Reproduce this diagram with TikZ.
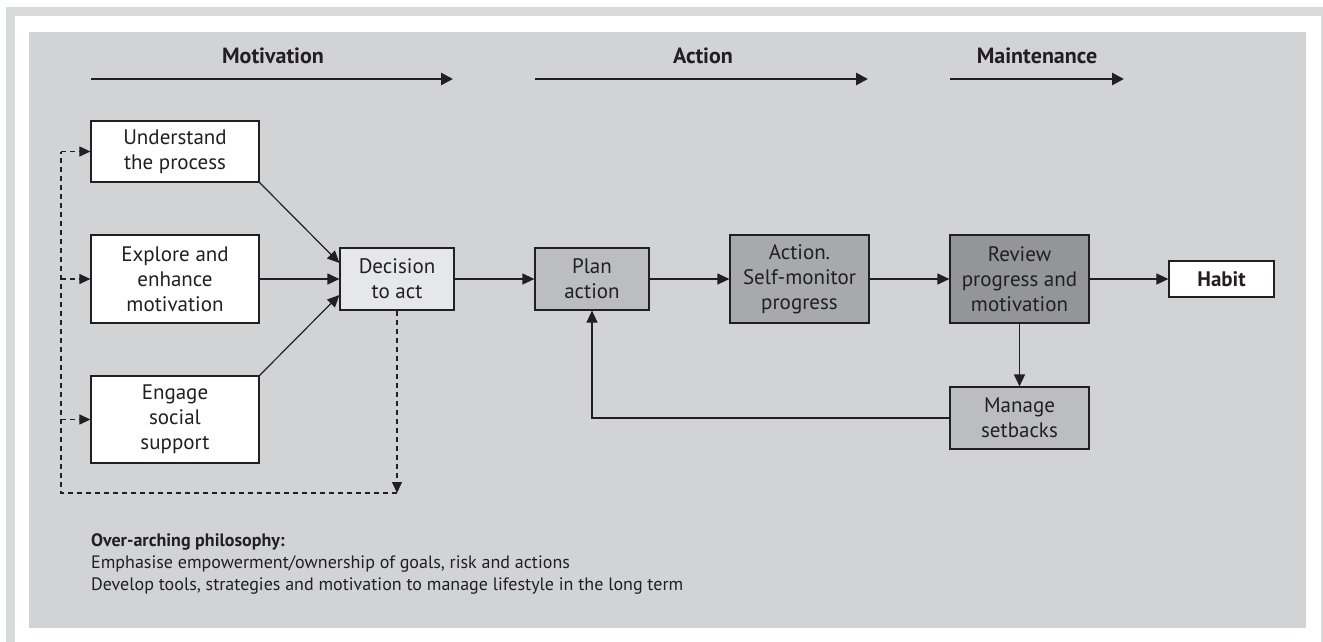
\documentclass[tikz,border=0pt]{standalone}
\usepackage{fontspec}
\setmainfont{PT Sans}
\usetikzlibrary{arrows.meta,calc}
\definecolor{bandc}{HTML}{D9DADC}
\definecolor{panelc}{HTML}{D2D3D5}
\definecolor{linec}{HTML}{231F20}
\definecolor{decc}{HTML}{E6E7E8}
\definecolor{planc}{HTML}{BCBDC0}
\definecolor{actc}{HTML}{A7A9AC}
\definecolor{revc}{HTML}{939598}
\begin{document}
\begin{tikzpicture}[x=1pt,y=-1pt,
  box/.style={draw=linec, line width=1.2pt, align=center, inner sep=0pt, text=linec,
    font=\fontsize{21}{25}\selectfont},
  conn/.style={draw=linec, line width=1.2pt, -{Triangle[length=12pt,width=11pt]}},
  dconn/.style={draw=linec, line width=1.1pt, dash pattern=on 5pt off 4pt},
  dtip/.style={-{Triangle[length=11pt,width=10pt]}},
  phase/.style={draw=linec, line width=2.6pt, -{Triangle[length=12pt,width=12pt]}},
  phaselabel/.style={text=linec, font=\bfseries\fontsize{22}{26}\selectfont, inner sep=0pt},
  foot/.style={text=linec, font=\fontsize{18}{22}\selectfont, inner sep=0pt, anchor=base west}]
\useasboundingbox (0,0) rectangle (1323,642);
% frame
\fill[bandc] (6,7) rectangle (1340,660);
\fill[white] (15,16) rectangle (1321,660);
\fill[panelc] (29,32) rectangle (1306,628);
% phase headers
\node[phaselabel] (lmot) at (273,56) {Motivation};
\node[phaselabel] (lact) at (703,56) {Action};
\node[phaselabel] (lmai) at (1037,56) {Maintenance};
\coordinate (m1) at (91,79); \coordinate (m2) at (453,79);
\coordinate (a1) at (535,79); \coordinate (a2) at (868,79);
\coordinate (n1) at (950,79); \coordinate (n2) at (1124,79);
\draw[phase] (m1) -- (m2);
\draw[phase] (a1) -- (a2);
\draw[phase] (n1) -- (n2);
% boxes
\node[box, fill=white, minimum width=168pt, minimum height=61pt] (und) at (175,151.5) {Understand\\the process};
\node[box, fill=white, minimum width=168pt, minimum height=88pt] (exp) at (175,279) {Explore and\\enhance\\motivation};
\node[box, fill=white, minimum width=168pt, minimum height=87pt] (eng) at (175,419.5) {Engage\\social\\support};
\node[box, fill=decc, minimum width=114pt, minimum height=62pt] (dec) at (397,279) {Decision\\to act};
\node[box, fill=planc, minimum width=114pt, minimum height=62pt] (plan) at (592,279) {Plan\\action};
\node[box, fill=actc, minimum width=139pt, minimum height=88pt] (act) at (799.5,279) {Action.\\Self-monitor\\progress};
\node[box, fill=revc, minimum width=139pt, minimum height=88pt] (rev) at (1019.5,279) {Review\\progress and\\motivation};
\node[box, fill=white, minimum width=105pt, minimum height=36pt, font=\bfseries\fontsize{21}{25}\selectfont] (hab) at (1221.5,279) {Habit};
\node[box, fill=planc, minimum width=139pt, minimum height=62pt] (man) at (1019.5,418) {Manage\\setbacks};
% connectors
\draw[conn] (und.south east) -- ([yshift=16pt]dec.west);
\draw[conn] (exp.east) -- (dec.west);
\draw[conn] (eng.north east) -- ([yshift=-16pt]dec.west);
\draw[conn] (dec.east) -- (plan.west);
\draw[conn] (plan.east) -- (act.west);
\draw[conn] (act.east) -- (rev.west);
\draw[conn] (rev.east) -- (hab.west);
\draw[conn] (rev.south) -- (man.north);
\draw[conn] (man.west) -| (plan.south);
% dashed feedback
\coordinate (dd) at (397,493);
\coordinate (dl) at (61,493);
\coordinate (dt) at (61,151.5);
\draw[dconn, dtip] (dec.south) -- (dd);
\draw[dconn] (dd) -- (dl) -- (dt);
\draw[dconn, dtip] (dt) -- (und.west);
\draw[dconn, dtip] (dl |- exp.west) -- (exp.west);
\draw[dconn, dtip] (dl |- eng.west) -- (eng.west);
% philosophy
\node[foot, font=\bfseries\fontsize{18}{22}\selectfont] (ph1) at (91,546) {Over-arching philosophy:};
\node[foot] (ph2) at (91,568) {Emphasise empowerment/ownership of goals, risk and actions};
\node[foot] (ph3) at (91,590) {Develop tools, strategies and motivation to manage lifestyle in the long term};
\end{tikzpicture}
\end{document}
